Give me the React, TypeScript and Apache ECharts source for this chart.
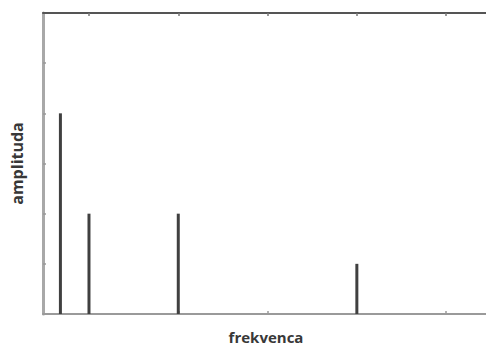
import React, { useEffect, useRef } from "react";
import * as echarts from "echarts";

const frequencies = [0.68, 1, 2, 4];
const amplitudes = [4, 2, 2, 1];
const xTicks = [1, 2, 3, 4, 5];
const yTicks = [1, 2, 3, 4, 5];
const xLabel = "frekvenca";
const yLabel = "amplituda";

export default function App() {
  const ref = useRef<HTMLDivElement>(null);
  useEffect(() => {
    if (!ref.current) return;
    const chart = echarts.init(ref.current, null, { renderer: "svg" });
    const data = frequencies.map((f, i) => [f, amplitudes[i]]);
    const tickStyle = (color: string) => ({
      show: true,
      inside: true,
      length: 3,
      lineStyle: { color, width: 1.5 },
    });
    chart.setOption({
      animation: false,
      backgroundColor: "#ffffff",
      grid: {
        left: 43,
        top: 13,
        right: -3,
        bottom: 33,
        containLabel: false,
        outerBoundsMode: "none",
      },
      xAxis: [
        {
          type: "value",
          position: "bottom",
          min: 0.485,
          max: 5.48,
          name: xLabel,
          nameLocation: "middle",
          nameGap: 15,
          nameTextStyle: {
            fontFamily: "Open Sans",
            fontWeight: "bold",
            fontSize: 15,
            lineHeight: 16,
            color: "#383838",
          },
          axisLine: { show: true, onZero: false, lineStyle: { color: "#9a9a9a", width: 2 } },
          axisTick: { ...tickStyle("#9a9a9a"), customValues: xTicks },
          axisLabel: { show: false },
          splitLine: { show: false },
        },
        {
          type: "value",
          position: "top",
          min: 0.485,
          max: 5.48,
          axisLine: { show: true, onZero: false, lineStyle: { color: "#555555", width: 2 } },
          axisTick: { ...tickStyle("#777777"), customValues: xTicks },
          axisLabel: { show: false },
          splitLine: { show: false },
        },
      ],
      yAxis: [
        {
          type: "value",
          position: "left",
          min: 0,
          max: 6,
          name: yLabel,
          nameLocation: "middle",
          nameGap: 18,
          nameRotate: 90,
          nameTextStyle: {
            fontFamily: "Open Sans",
            fontWeight: "bold",
            fontSize: 16,
            color: "#383838",
          },
          axisLine: { show: true, onZero: false, lineStyle: { color: "#a8a8a8", width: 3 } },
          axisTick: { ...tickStyle("#999999"), customValues: yTicks },
          axisLabel: { show: false },
          splitLine: { show: false },
        },
        {
          type: "value",
          position: "right",
          min: 0,
          max: 6,
          axisLine: { show: true, onZero: false, lineStyle: { color: "#999999", width: 2 } },
          axisTick: { ...tickStyle("#bbbbbb"), customValues: yTicks },
          axisLabel: { show: false },
          splitLine: { show: false },
        },
      ],
      series: [
        {
          type: "bar",
          xAxisIndex: 0,
          yAxisIndex: 0,
          data,
          barWidth: 3,
          itemStyle: { color: "#404040" },
        },
      ],
    });
    return () => chart.dispose();
  }, []);
  return (
    <div
      ref={ref}
      style={{ position: "fixed", left: 0, top: 0, width: 486, height: 347, background: "#fff" }}
    />
  );
}
